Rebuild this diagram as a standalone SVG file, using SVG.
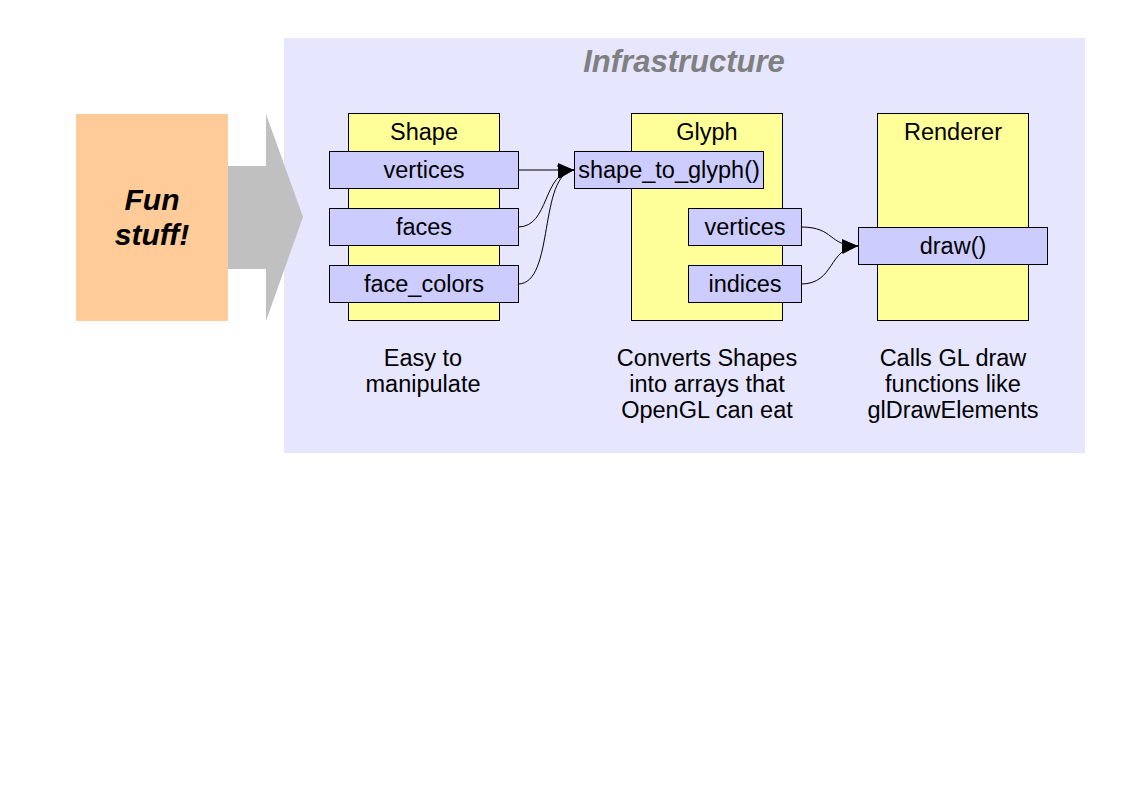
<svg xmlns="http://www.w3.org/2000/svg" width="1123" height="794" viewBox="0 0 1123 794">
<style>
.t{font-family:"Liberation Sans",Arial,sans-serif;font-size:23.5px;fill:#000;text-anchor:middle}
.col{fill:#FFFF99;stroke:#000;stroke-width:1}
.fld{fill:#CCCCFF;stroke:#000;stroke-width:1}
.c{fill:none;stroke:#000;stroke-width:1}
</style>
<defs>
<marker id="ah" markerWidth="17" markerHeight="16" refX="16" refY="8" orient="auto" markerUnits="userSpaceOnUse">
<path d="M0,1 L16,8 L0,15 Z" fill="#000"/>
</marker>
</defs>
<rect width="1123" height="794" fill="#fff"/>
<g id="infrastructure">
<rect x="284" y="38" width="801" height="415" fill="#E6E6FF"/>
<text x="684" y="72" font-family="Liberation Sans,Arial,sans-serif" font-size="31" font-weight="bold" font-style="italic" fill="#808080" text-anchor="middle">Infrastructure</text>
</g>
<g id="fun">
<rect x="76" y="114" width="152" height="207" fill="#FFCC99"/>
<text x="152" y="210" font-family="Liberation Sans,Arial,sans-serif" font-size="30" font-weight="bold" font-style="italic" text-anchor="middle">Fun</text>
<text x="152" y="245" font-family="Liberation Sans,Arial,sans-serif" font-size="30" font-weight="bold" font-style="italic" text-anchor="middle">stuff!</text>
</g>
<g id="bigarrow">
<polygon points="228,166 266,166 266,114 303,217 266,321 266,269 228,269" fill="#C0C0C0"/>
</g>
<g id="shape">
<rect class="col" x="348.5" y="113.5" width="151" height="207"/>
<text class="t" x="424" y="140">Shape</text>
<rect class="fld" x="329.5" y="151.5" width="189" height="37"/>
<text class="t" x="424" y="178">vertices</text>
<rect class="fld" x="329.5" y="208.5" width="189" height="37"/>
<text class="t" x="424" y="235">faces</text>
<rect class="fld" x="329.5" y="265.5" width="189" height="37"/>
<text class="t" x="424" y="292">face_colors</text>
<text class="t" x="423" y="366">Easy to</text>
<text class="t" x="423" y="392">manipulate</text>
</g>
<g id="glyph">
<rect class="col" x="631.5" y="113.5" width="151" height="207"/>
<text class="t" x="707" y="140">Glyph</text>
<rect class="fld" x="574.5" y="151.5" width="189" height="37"/>
<text class="t" x="669" y="178">shape_to_glyph()</text>
<rect class="fld" x="688.5" y="208.5" width="113" height="37"/>
<text class="t" x="745" y="235">vertices</text>
<rect class="fld" x="688.5" y="265.5" width="113" height="37"/>
<text class="t" x="745" y="292">indices</text>
<text class="t" x="707" y="366">Converts Shapes</text>
<text class="t" x="707" y="392">into arrays that</text>
<text class="t" x="707" y="418">OpenGL can eat</text>
</g>
<g id="renderer">
<rect class="col" x="877.5" y="113.5" width="151" height="207"/>
<text class="t" x="953" y="140">Renderer</text>
<rect class="fld" x="858.5" y="227.5" width="189" height="37"/>
<text class="t" x="953" y="254">draw()</text>
<text class="t" x="953" y="366">Calls GL draw</text>
<text class="t" x="953" y="392">functions like</text>
<text class="t" x="953" y="418">glDrawElements</text>
</g>
<g id="connectors">
<path class="c" d="M518,170 L574,170" marker-end="url(#ah)"/>
<path class="c" d="M518,227 C550,227 542,172 574,170" marker-end="url(#ah)"/>
<path class="c" d="M518,284 C555,284 538,174 574,170" marker-end="url(#ah)"/>
<path class="c" d="M801,227 C835,227 828,246 858,246" marker-end="url(#ah)"/>
<path class="c" d="M801,284 C835,284 828,248 858,246" marker-end="url(#ah)"/>
</g>
</svg>
